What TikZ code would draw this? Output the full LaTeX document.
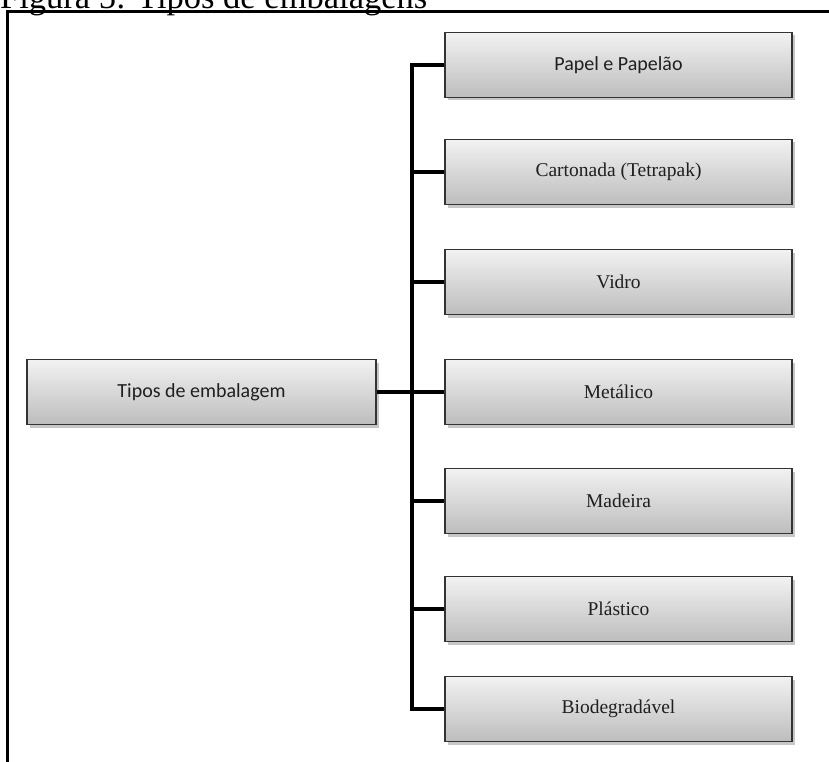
\documentclass[tikz,border=0pt]{standalone}
\usepackage{fontspec}
\setmainfont{Liberation Serif}
\newfontfamily\sanslabel{Carlito}
\usetikzlibrary{shadows}
\definecolor{boxedge}{HTML}{333333}
\definecolor{boxtop}{HTML}{F2F2F2}
\definecolor{boxbottom}{HTML}{BDBDBD}
\definecolor{boxtext}{HTML}{1F1F1F}
\tikzset{
  catbox/.style={draw=boxedge, line width=1.3pt,
    top color=boxtop, bottom color=boxbottom,
    minimum width=347pt, minimum height=65pt, inner sep=0pt,
    drop shadow={shadow xshift=2.5pt, shadow yshift=-3pt, fill=black, opacity=0.22},
    text=boxtext, font=\fontsize{19.5}{22}\selectfont},
  sanscat/.style={catbox, font=\sanslabel\fontsize{20}{22}\selectfont},
  conn/.style={line width=3.4pt, black},
  frameline/.style={line width=2.2pt, black}
}
\begin{document}
\begin{tikzpicture}[x=1pt, y=-1pt]
  \useasboundingbox (0,0) rectangle (829,762);
  \clip (0,0) rectangle (829,762);

  % caption, partly above the top edge
  \node[anchor=base west, inner sep=0pt, font=\fontsize{34.5}{40}\selectfont] (title) at (0,9) {Figura 5: Tipos de embalagens};

  % frame around the figure
  \draw[frameline] (7.5,762) -- (7.5,11.5) -- (829,11.5);

  % root
  \node[sanscat, minimum width=349pt] (root) at (201.5,392) {Tipos de embalagem};

  % categories
  \node[sanscat] (c1) at (618.5,65)  {Papel e Papelão};
  \node[catbox]  (c2) at (618.5,172) {Cartonada (Tetrapak)};
  \node[catbox]  (c3) at (618.5,282) {Vidro};
  \node[catbox]  (c4) at (618.5,392) {Metálico};
  \node[catbox]  (c5) at (618.5,501) {Madeira};
  \node[catbox]  (c6) at (618.5,609) {Plástico};
  \node[catbox]  (c7) at (618.5,709) {Biodegradável};

  % trunk
  \coordinate (hub) at (412,392);
  \draw[conn] (c1.west) -- (c1.west -| hub) -- (c7.west -| hub) -- (c7.west);
  \draw[conn] (root.east) -- (hub);
  \foreach \n in {c2,c3,c4,c5,c6}
    \draw[conn] (\n.west -| hub) -- (\n.west);
\end{tikzpicture}
\end{document}
